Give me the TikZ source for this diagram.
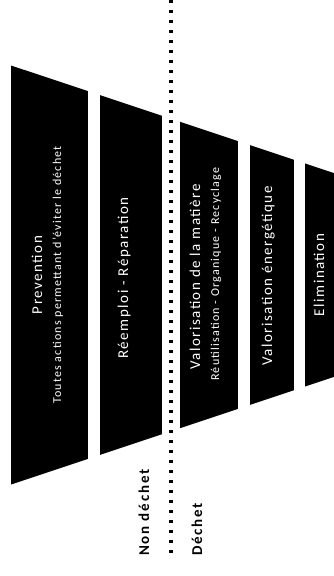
\documentclass[tikz,border=0pt]{standalone}
\usepackage{fontspec}
\setmainfont{Carlito}
\usepackage{tikz}
\usepackage{xcolor}

\begin{document}
\begin{tikzpicture}[x=1pt, y=-1pt,
  level/.style={fill=black},
  ltitle/.style={rotate=90, anchor=base, text=white, inner sep=0pt,
    font=\fontsize{15}{18}\selectfont\addfontfeature{LetterSpace=10}},
  lsub/.style={rotate=90, anchor=base, text=white, inner sep=0pt,
    font=\fontsize{12}{14}\selectfont\addfontfeature{LetterSpace=10}},
  zone/.style={rotate=90, anchor=base west, inner sep=0pt,
    font=\bfseries\fontsize{15}{17}\selectfont\addfontfeature{LetterSpace=12}}]
  \useasboundingbox (0,0) rectangle (334,576);
  % Funnel cut into five levels
  \begin{scope}
    \clip (11,65.5) -- (340,175.1) -- (340,374.9) -- (11,484.5) -- cycle;
    \fill[level] (11,0) rectangle (88,576);
    \fill[level] (100,0) rectangle (162,576);
    \fill[level] (180,0) rectangle (238,576);
    \fill[level] (250,0) rectangle (294,576);
    \fill[level] (305,0) rectangle (334,576);
  \end{scope}
  % Level texts
  \node[ltitle] (prev) at (42,275) {Prevention};
  \node[lsub] (prevsub) at (61,275) {Toutes actions permettant d'éviter le déchet};
  \node[ltitle] (reemp) at (128,278) {Réemploi - Réparation};
  \node[ltitle] (valmat) at (200,277) {Valorisation de la matière};
  \node[lsub] (valmatsub) at (219,274) {Réutilisation - Organique - Recyclage};
  \node[ltitle] (valen) at (272,276) {Valorisation énergétique};
  \node[ltitle] (elim) at (324,275) {Elimination};
  % Border between non waste and waste
  \coordinate (septop) at (171,0);
  \coordinate (sepbot) at (171,556);
  \draw[line width=3.5pt, dash pattern=on 2.5pt off 7.5pt] (septop) -- (sepbot);
  \node[zone] (nondech) at (149,556) {Non déchet};
  \node[zone] (dech) at (202,556) {Déchet};
\end{tikzpicture}
\end{document}
